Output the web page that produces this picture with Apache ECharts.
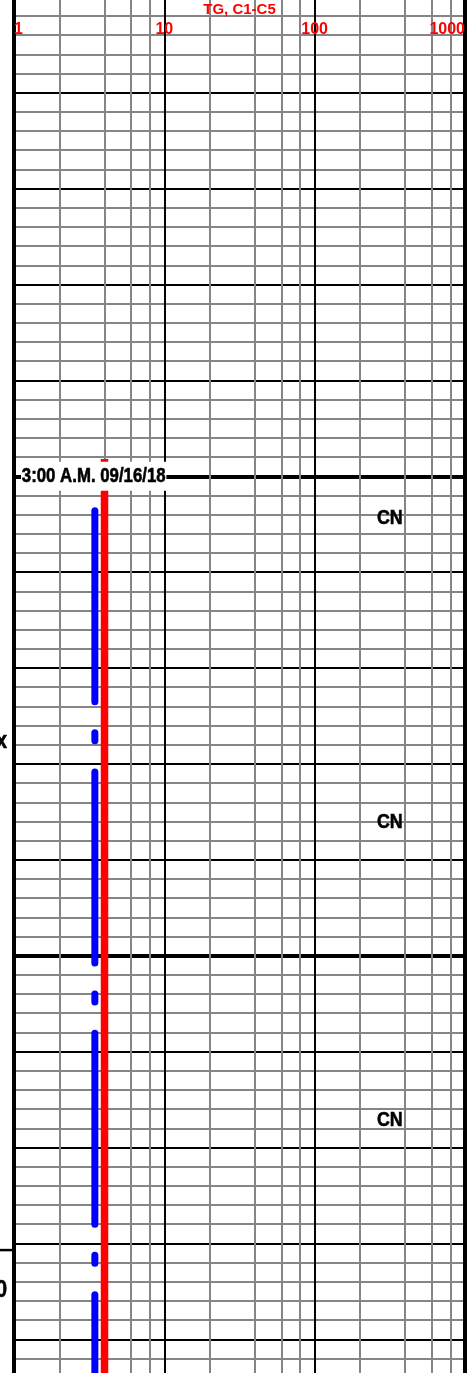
<!DOCTYPE html>
<html>
<head>
<meta charset="utf-8">
<script src="https://cdn.jsdelivr.net/npm/echarts@6/dist/echarts.min.js"></script>
<style>
  html, body { margin: 0; padding: 0; background: #fff; }
  #chart { width: 474px; height: 1373px; }
</style>
</head>
<body>
<div id="chart"></div>
<script>
// Gas track: TG and C1-C5 on a log scale, depth running down the page.
const xTickLabels = ['1', '10', '100', '1000'];
const minorGridX = [2, 4, 6, 8, 20, 40, 60, 80, 200, 400, 600, 800];

const tgData = [[4, 5848.2], [4, 5950]];
const c1c5Data = [[3.45, 5853.6], [3.45, 5950]];

const cnValue = 316;
const cnDepths = [5854.4, 5886.1, 5917.2];

const timeMarkDepth = 5850;
const timeMarkText = '3:00 A.M. 09/16/18';

const depthTicks = [5930.7];
const sideLabels = ['x', '0'];
const sideLabelDepths = [5877.6, 5934.9];

const FONT = '"Liberation Sans", Arial, sans-serif';

const DEPTH_MIN = 5750, DEPTH_MAX = 5950;
const PX_PER_FT = 9.589;
const gridTop = 955.7 - (5900 - DEPTH_MIN) * PX_PER_FT;
const gridHeight = (DEPTH_MAX - DEPTH_MIN) * PX_PER_FT;

const chart = echarts.init(document.getElementById('chart'), null, { renderer: 'canvas' });

function depthAxis(interval, color, width, z) {
  return {
    type: 'value', inverse: true, min: DEPTH_MIN, max: DEPTH_MAX, interval: interval, z: z,
    axisLine: { show: false }, axisTick: { show: false }, axisLabel: { show: false },
    splitLine: { show: true, lineStyle: { color: color, width: width } }
  };
}

chart.setOption({
  animation: false,
  grid: {
    left: 14, right: 9, top: gridTop, height: gridHeight,
    containLabel: false, outerBoundsMode: 'none',
    show: true, borderColor: '#000', borderWidth: 4, backgroundColor: 'transparent', z: 3
  },
  xAxis: [
    {
      type: 'log', logBase: 10, min: 1, max: 1000, position: 'top', z: 1,
      axisLine: { show: false }, axisTick: { show: false }, axisLabel: { show: false },
      splitLine: { show: true, lineStyle: { color: '#000', width: 2 } }
    },
    {
      type: 'log', logBase: 10, min: 1, max: 1000, position: 'top', z: 5,
      offset: gridTop - 38,
      name: 'TG, C1-C5', nameLocation: 'middle', nameGap: 21,
      nameTextStyle: { color: '#ff0000', fontWeight: 'bold', fontSize: 15, fontFamily: FONT },
      axisLine: { show: false }, axisTick: { show: false }, splitLine: { show: false },
      axisLabel: {
        show: true, margin: 0, color: '#ff0000', fontWeight: 'bold', fontSize: 16,
        fontFamily: FONT, alignMinLabel: 'left', alignMaxLabel: 'right',
        formatter: function (v) {
          const i = Math.round(Math.log10(v));
          return xTickLabels[i] !== undefined ? xTickLabels[i] : '';
        }
      }
    }
  ],
  yAxis: [
    depthAxis(2, '#858585', 2, 0),
    depthAxis(10, '#000', 2, 1),
    depthAxis(50, '#000', 4, 1)
  ],
  series: [
    {
      type: 'line', data: [], xAxisIndex: 0, yAxisIndex: 0, z: 0, silent: true,
      markLine: {
        silent: true, symbol: ['none', 'none'], label: { show: false }, animation: false,
        lineStyle: { type: 'solid', color: '#858585', width: 2 },
        data: minorGridX.map(v => ({ xAxis: v }))
      }
    },
    {
      name: 'C1-C5', type: 'line', data: c1c5Data, xAxisIndex: 0, yAxisIndex: 0, z: 6,
      showSymbol: false, symbol: 'none',
      lineStyle: { color: '#0000ff', width: 7, cap: 'round', type: [191, 31, 8, 31.3] }
    },
    {
      name: 'TG', type: 'line', data: tgData, xAxisIndex: 0, yAxisIndex: 0, z: 6,
      showSymbol: false, symbol: 'none',
      lineStyle: { color: '#ff0000', width: 7.5, type: 'solid' }
    }
  ]
});

// Annotations placed through the chart's own scales.
const leftEdge = chart.convertToPixel({ xAxisIndex: 0 }, 1);
const toX = v => chart.convertToPixel({ xAxisIndex: 0 }, v);
const toY = d => chart.convertToPixel({ yAxisIndex: 0 }, d);
const graphics = [];

graphics.push({
  type: 'text', z: 20, x: leftEdge + 7, y: toY(timeMarkDepth), scaleX: 0.8,
  style: {
    text: timeMarkText, fill: '#000', stroke: '#000', lineWidth: 0.6,
    font: 'bold 21px ' + FONT, verticalAlign: 'middle', align: 'left',
    backgroundColor: '#fff', padding: [3, 1, 5, 1]
  }
});

cnDepths.forEach(d => {
  graphics.push({
    type: 'text', z: 20, x: toX(cnValue), y: toY(d), scaleX: 0.85,
    style: {
      text: 'CN', fill: '#000', stroke: '#000', lineWidth: 0.6,
      font: 'bold 21px ' + FONT, verticalAlign: 'middle', align: 'center'
    }
  });
});

depthTicks.forEach(d => {
  const y = toY(d);
  graphics.push({
    type: 'line', z: 20,
    shape: { x1: 0, y1: y, x2: leftEdge, y2: y },
    style: { stroke: '#000', lineWidth: 2.5 }
  });
});

sideLabels.forEach((t, i) => {
  graphics.push({
    type: 'text', z: 20, x: leftEdge - 7, y: toY(sideLabelDepths[i]), scaleX: 0.85,
    style: {
      text: t, fill: '#000', stroke: '#000', lineWidth: 0.6,
      font: 'bold 24px ' + FONT, verticalAlign: 'middle', align: 'right'
    }
  });
});

chart.setOption({ graphic: graphics });
</script>
</body>
</html>
